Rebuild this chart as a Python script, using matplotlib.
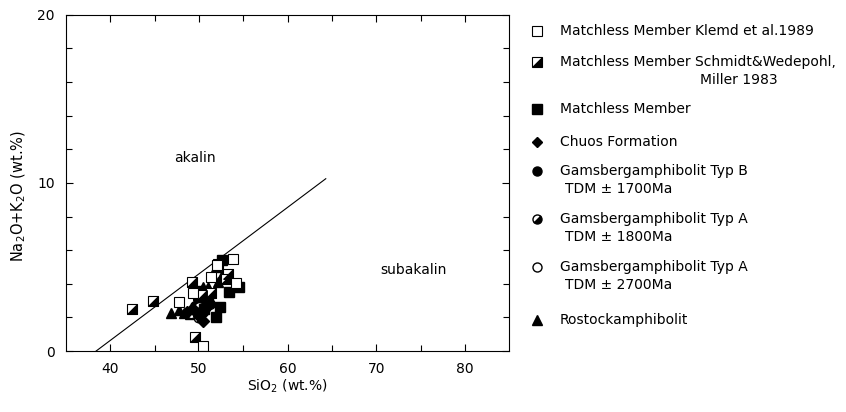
import matplotlib
matplotlib.use("Agg")
import matplotlib.pyplot as plt
from matplotlib.lines import Line2D
from matplotlib.markers import MarkerStyle
from matplotlib.transforms import Affine2D

# data (SiO2 vs Na2O+K2O, wt.%)
klemd_x = [47.8, 49.35, 51.3, 53.8, 54.2, 50.5, 52.0]
klemd_y = [2.9, 3.43, 4.4, 5.5, 4.07, 0.3, 5.1]

schmidt_x = [42.4, 44.8, 49.2, 49.6, 53.3, 52.2, 50.3, 51.4, 53.0]
schmidt_y = [2.48, 3.0, 4.1, 0.85, 4.6, 5.2, 3.33, 3.43, 4.3]

matchless_x = [52.6, 53.4, 54.5, 52.4, 51.9, 51.0, 50.6, 49.8]
matchless_y = [5.4, 3.5, 3.8, 2.64, 2.0, 3.0, 2.5, 3.6]

chuos_x = [50.5, 49.5, 48.7, 50.0]
chuos_y = [1.8, 2.4, 2.3, 2.1]

gams_b_x = [49.6, 50.2, 50.8, 49.9, 50.5, 51.2, 49.3]
gams_b_y = [2.7, 2.9, 2.6, 3.1, 2.3, 2.8, 2.5]

gams_a18_x = [50.0, 50.9]
gams_a18_y = [2.6, 3.1]

gams_a27_x = [49.9, 49.1]
gams_a27_y = [1.95, 2.2]

rostock_x = [46.8, 47.7, 48.3, 49.0, 51.9, 52.2, 50.5, 51.0, 49.5, 52.6]
rostock_y = [2.24, 2.44, 2.28, 2.2, 5.0, 4.1, 3.8, 3.8, 3.6, 4.5]

divide_x = [38.4, 64.3]
divide_y = [0.0, 10.25]

FONT = "DejaVu Sans"
plt.rcParams["font.family"] = FONT

# lower-right triangle for the half-filled markers
half_tri = [(-1, -1), (1, -1), (1, 1), (-1, -1)]
half_circle = MarkerStyle("o", fillstyle="left", transform=Affine2D().rotate_deg(135))


def half_square(ax, x, y, ms):
    ax.plot(x, y, ls="none", marker="s", ms=ms, mfc="white", mec="black", mew=0.8)
    ax.plot(x, y, ls="none", marker=half_tri, ms=ms, mfc="black", mec="black", mew=0.8)


fig = plt.figure(figsize=(8.46, 4.12), dpi=100)
ax = fig.add_axes((0.078, 0.148, 0.524, 0.816))

ax.plot(divide_x, divide_y, color="black", lw=0.8)

ms = 7
ax.plot(rostock_x, rostock_y, ls="none", marker="^", ms=ms, color="black")
ax.plot(gams_b_x, gams_b_y, ls="none", marker="o", ms=ms, color="black")
ax.plot(gams_a18_x, gams_a18_y, ls="none", marker=half_circle, ms=ms,
        mfc="black", mfcalt="white", mec="black")
ax.plot(gams_a27_x, gams_a27_y, ls="none", marker="o", ms=ms - 1, mfc="white", mec="black")
ax.plot(chuos_x, chuos_y, ls="none", marker="D", ms=ms - 1, color="black")
ax.plot(matchless_x, matchless_y, ls="none", marker="s", ms=ms, color="black")
half_square(ax, schmidt_x, schmidt_y, ms)
ax.plot(klemd_x, klemd_y, ls="none", marker="s", ms=ms, mfc="white", mec="black", mew=0.8)

ax.text(49.5, 11.5, "akalin", fontsize=10, ha="center", va="center")
ax.text(74.2, 4.8, "subakalin", fontsize=10, ha="center", va="center")

ax.set_xlim(35, 85)
ax.set_ylim(0, 20)
ax.set_xticks([40, 50, 60, 70, 80])
ax.set_xticks([45, 55, 65, 75], minor=True)
ax.set_yticks([0, 10, 20])
ax.set_yticks([2, 4, 6, 8, 12, 14, 16, 18], minor=True)
ax.tick_params(which="both", direction="in", top=True, right=True, labelsize=10, width=0.8)
ax.tick_params(which="major", length=5, pad=8)
ax.tick_params(which="minor", length=4)
for s in ax.spines.values():
    s.set_linewidth(0.8)

ax.set_xlabel("SiO$_2$ (wt.%)", fontsize=10, labelpad=1)
ax.set_ylabel("Na$_2$O+K$_2$O (wt.%)", fontsize=10.5)
ax.yaxis.set_label_coords(-0.085, 0.46)

# legend drawn by hand: marker in figure coords, labels next to it
lx, tx = 537 / 846, 560 / 846


def fy(py):
    return 1 - py / 412


def leg_marker(py, marker, **kw):
    fig.add_artist(Line2D([lx], [fy(py)], transform=fig.transFigure, ls="none",
                          marker=marker, **kw))


leg_ms = 6.5
leg_marker(31, "s", ms=leg_ms, mfc="white", mec="black", mew=0.8)
leg_marker(62, "s", ms=leg_ms, mfc="white", mec="black", mew=0.8)
leg_marker(62, half_tri, ms=leg_ms, mfc="black", mec="black", mew=0.8)
leg_marker(109, "s", ms=leg_ms, color="black")
leg_marker(142, "D", ms=leg_ms - 1, color="black")
leg_marker(171, "o", ms=leg_ms, color="black")
leg_marker(219, half_circle, ms=leg_ms, mfc="black", mfcalt="white", mec="black")
leg_marker(267, "o", ms=leg_ms, mfc="white", mec="black")
leg_marker(320, "^", ms=leg_ms, color="black")

fs = 10
fig.text(tx, fy(31), "Matchless Member Klemd et al.1989", fontsize=fs, va="center")
fig.text(tx, fy(62), "Matchless Member Schmidt&Wedepohl,", fontsize=fs, va="center")
fig.text(778 / 846, fy(80), "Miller 1983", fontsize=fs, va="center", ha="right")
fig.text(tx, fy(109), "Matchless Member", fontsize=fs, va="center")
fig.text(tx, fy(142), "Chuos Formation", fontsize=fs, va="center")
fig.text(tx, fy(171), "Gamsbergamphibolit Typ B", fontsize=fs, va="center")
fig.text(tx + 5 / 846, fy(189), "TDM \u00b1 1700Ma", fontsize=fs, va="center")
fig.text(tx, fy(219), "Gamsbergamphibolit Typ A", fontsize=fs, va="center")
fig.text(tx + 5 / 846, fy(237), "TDM \u00b1 1800Ma", fontsize=fs, va="center")
fig.text(tx, fy(267), "Gamsbergamphibolit Typ A", fontsize=fs, va="center")
fig.text(tx + 5 / 846, fy(285), "TDM \u00b1 2700Ma", fontsize=fs, va="center")
fig.text(tx, fy(320), "Rostockamphibolit", fontsize=fs, va="center")

fig.savefig("out.png", dpi=100)
